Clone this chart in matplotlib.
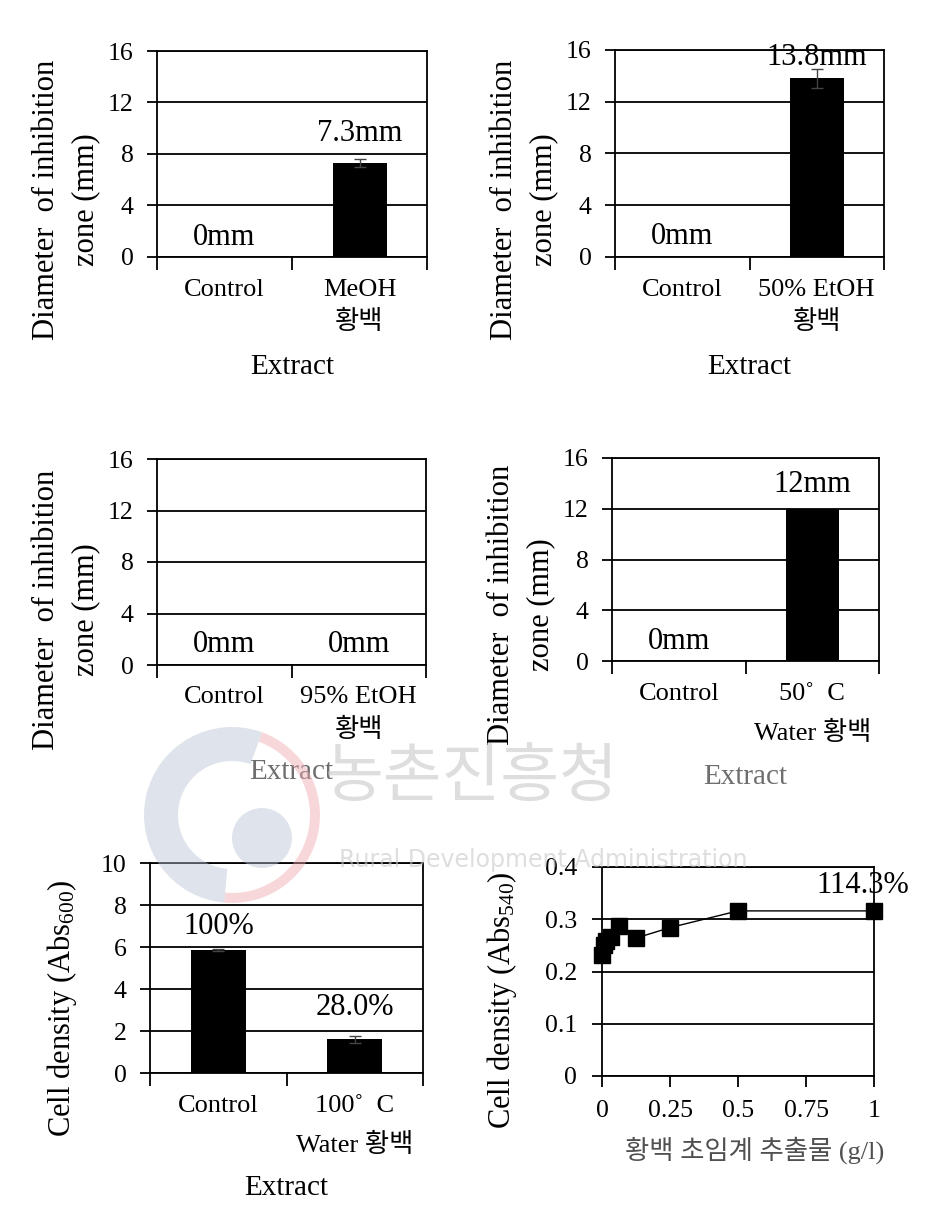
import matplotlib
matplotlib.use('Agg')
import matplotlib.pyplot as plt
import matplotlib.transforms as mtransforms
from matplotlib.patches import Wedge, Circle

plt.rcParams['font.family'] = ['Liberation Serif', 'Noto Sans CJK KR']
plt.rcParams['mathtext.fontset'] = 'custom'
plt.rcParams['mathtext.rm'] = 'Liberation Serif'
plt.rcParams['mathtext.default'] = 'regular'

W, H = 930, 1213

# ---- data ----
zone_cats = [
    ['Control', 'MeOH\n황백'],
    ['Control', '50% EtOH\n황백'],
    ['Control', '95% EtOH\n황백'],
    ['Control', '50˚  C\nWater 황백'],
]
zone_values = [[0, 7.3], [0, 13.8], [0, 0], [0, 12.0]]
zone_errors = [[0, 0.3], [0, 0.7], [0, 0], [0, 0]]
zone_labels = [['0mm', '7.3mm'], ['0mm', '13.8mm'], ['0mm', '0mm'], ['0mm', '12mm']]
zone_ticks = [0, 4, 8, 12, 16]

density_cats = ['Control', '100˚  C\nWater 황백']
density_values = [5.85, 1.6]
density_errors = [0.05, 0.15]
density_labels = ['100%', '28.0%']
density_ticks = [0, 2, 4, 6, 8, 10]

conc = [0, 0.0078, 0.0156, 0.03125, 0.0625, 0.125, 0.25, 0.5, 1.0]
abs540 = [0.232, 0.250, 0.258, 0.266, 0.288, 0.264, 0.284, 0.316, 0.316]
abs540_err = [0.012, 0.010, 0.010, 0.010, 0.008, 0.012, 0.005, 0.004, 0.005]
conc_ticks = [0, 0.25, 0.5, 0.75, 1]
conc_ticklabels = ['0', '0.25', '0.5', '0.75', '1']
abs_ticks = [0, 0.1, 0.2, 0.3, 0.4]
abs_ticklabels = ['0', '0.1', '0.2', '0.3', '0.4']

fig = plt.figure(figsize=(W / 100, H / 100), dpi=100)


def rect(l, t, r, b):
    return [l / W, 1 - b / H, (r - l) / W, (b - t) / H]


def fy(y):
    return 1 - y / H


def style_axes(ax):
    for s in ax.spines.values():
        s.set_linewidth(1.3)
        s.set_color('black')
    ax.yaxis.grid(True, color='black', linewidth=1.3)
    ax.set_axisbelow(True)
    ax.tick_params(axis='y', direction='out', length=7, width=1.3,
                   labelsize=18.5, pad=10)


def bar_panel(ax, cats, vals, errs, labels, label_y, ticks, cat_y, sub_y, ext_y,
              ext_color='black'):
    x = list(range(len(cats)))
    ax.bar(x, vals, width=0.4, color='black', zorder=2)
    for xi, v, e in zip(x, vals, errs):
        if e > 0:
            ax.errorbar(xi, v, yerr=e, color='#444444', capsize=4, lw=1,
                        capthick=1, zorder=3)
    for xi, lab, ly in zip(x, labels, label_y):
        ax.text(xi, ly, lab, ha='center', va='center', fontsize=22, zorder=4)
    ax.set_xlim(-0.5, len(cats) - 0.5)
    ax.set_ylim(ticks[0], ticks[-1])
    ax.set_yticks(ticks)
    ax.set_xticks([])
    ax.set_xticks([i - 0.5 for i in range(len(cats) + 1)], minor=True)
    ax.tick_params(axis='x', which='minor', direction='out', length=9,
                   width=1.3, labelbottom=False)
    style_axes(ax)
    trans = mtransforms.blended_transform_factory(ax.transData, fig.transFigure)
    for xi, c in zip(x, cats):
        lines = c.split('\n')
        ax.text(xi, fy(cat_y), lines[0], transform=trans, ha='center',
                va='center', fontsize=19)
        if len(lines) > 1:
            ax.text(xi, fy(sub_y), lines[1], transform=trans, ha='center',
                    va='center', fontsize=19)
    ax.text(0.5, fy(ext_y), 'Extract', transform=mtransforms.blended_transform_factory(
        ax.transAxes, fig.transFigure), ha='center', va='center', fontsize=21,
        color=ext_color)


zone_rects = [rect(157, 51, 427, 257), rect(615, 50, 884, 257),
              rect(157, 459, 426, 665), rect(612, 458, 879, 661)]
zone_label_y = [[1.55, 9.6], [1.55, 15.4], [1.6, 1.6], [1.5, 13.9]]
cat_ys = [(290, 322, 367), (290, 322, 367), (697, 730, 772), (694, 733, 777)]
ylab_x = [(46, 86), (504, 544), (46, 86), (501, 541)]
ylab_y = [200, 200, 610, 605]
ext_colors = ['black', 'black', '#6e6e6e', '#6e6e6e']

for i in range(4):
    ax = fig.add_axes(zone_rects[i])
    cy, sy, ey = cat_ys[i]
    bar_panel(ax, zone_cats[i], zone_values[i], zone_errors[i], zone_labels[i],
              zone_label_y[i], zone_ticks, cy, sy, ey, ext_colors[i])
    fig.text(ylab_x[i][0] / W, fy(ylab_y[i]), 'Diameter  of inhibition',
             rotation=90, ha='center', va='center', fontsize=22)
    fig.text(ylab_x[i][1] / W, fy(ylab_y[i]), 'zone (mm)',
             rotation=90, ha='center', va='center', fontsize=22)

# ---- cell density bar ----
ax5 = fig.add_axes(rect(150, 863, 423, 1073))
bar_panel(ax5, density_cats, density_values, density_errors, density_labels,
          [7.0, 3.1], density_ticks, 1106, 1145, 1188)
fig.text(62 / W, fy(1008), 'Cell density (Abs$_{600}$)', rotation=90,
         ha='center', va='center', fontsize=22)

# ---- concentration curve ----
ax6 = fig.add_axes(rect(602, 867, 874, 1076))
ax6.errorbar(conc, abs540, yerr=abs540_err, color='black', marker='s', ms=11,
             lw=1, capsize=4, capthick=1, ecolor='#444444', clip_on=False,
             zorder=3)
ax6.set_xlim(0, 1)
ax6.set_ylim(0, 0.4)
ax6.set_xticks(conc_ticks)
ax6.set_xticklabels(conc_ticklabels)
ax6.set_yticks(abs_ticks)
ax6.set_yticklabels(abs_ticklabels)
style_axes(ax6)
ax6.tick_params(axis='y', pad=11)
ax6.tick_params(axis='x', direction='out', length=8, width=1.3,
                labelsize=18.5, pad=9)
ax6.annotate('114.3%', xy=(conc[-1], 0.365), xytext=(-8, 0),
             textcoords='offset points', ha='center', va='center', fontsize=22)
fig.text(755 / W, fy(1150), '황백 초임계 추출물 (g/l)', ha='center',
         va='center', fontsize=19, color='#505050')
fig.text(502 / W, fy(1000), 'Cell density (Abs$_{540}$)', rotation=90,
         ha='center', va='center', fontsize=22)

# ---- faint watermark ----
wm = fig.add_axes([0, 0, 1, 1], zorder=10)
wm.set_xlim(0, W)
wm.set_ylim(H, 0)
wm.axis('off')
wm.patch.set_alpha(0)
wm.add_patch(Wedge((232, 815), 88, 95, 290, width=34, color='#b8c3d3',
                   alpha=0.45, lw=0))
wm.add_patch(Wedge((232, 815), 88, 290, 95, width=10, color='#f0a8b0',
                   alpha=0.45, lw=0))
wm.add_patch(Circle((262, 838), 30, color='#b8c3d3', alpha=0.45, lw=0))
wm.text(472, 778, '농촌진흥청', ha='center', va='center', fontsize=46,
        color='#c8c8c8', alpha=0.6, family='Noto Sans CJK KR')
wm.text(543, 860, 'Rural Development Administration', ha='center',
        va='center', fontsize=17, color='#c8c8c8', alpha=0.6,
        family='DejaVu Sans')

fig.savefig('out.png', dpi=100)
